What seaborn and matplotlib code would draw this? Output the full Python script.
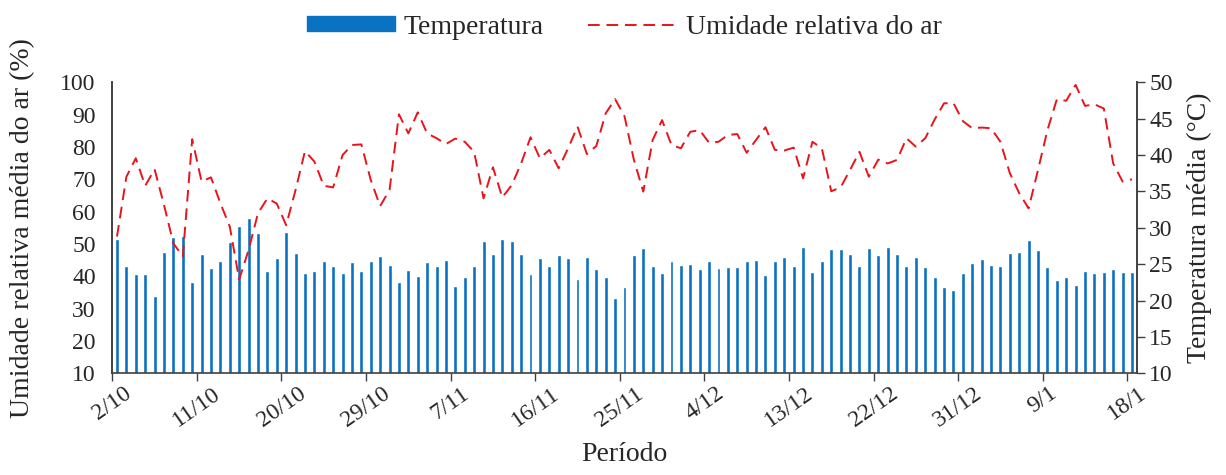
import numpy as np
import pandas as pd
import matplotlib
matplotlib.use("Agg")
import matplotlib.pyplot as plt
from matplotlib.patches import Patch
from matplotlib.lines import Line2D
import seaborn as sns

# Daily mean temperature (°C), 2/10 .. 18/1
temperatura = [
    28.4, 24.75, 23.6, 23.7, 20.6, 26.7, 28.7, 28.9, 22.5, 26.4,
    24.5, 25.4, 28.1, 30.2, 31.4, 29.3, 24.0, 25.8, 29.4, 26.5,
    23.8, 24.0, 25.4, 24.75, 23.8, 25.25, 24.1, 25.4, 26.1, 24.9,
    22.55, 24.25, 23.4, 25.35, 24.7, 25.6, 22.0, 23.3, 24.8, 28.2,
    26.4, 28.4, 28.2, 26.4, 23.7, 25.9, 24.7, 26.3, 25.8, 23.0,
    26.0, 24.4, 23.2, 20.4, 21.8, 26.2, 27.2, 24.7, 23.8, 25.5,
    24.9, 25.0, 24.3, 25.5, 24.5, 24.6, 24.6, 25.5, 25.6, 23.5,
    25.4, 26.0, 24.8, 27.3, 23.9, 25.5, 27.1, 27.1, 26.4, 24.8,
    27.2, 26.3, 27.4, 26.35, 24.75, 26.0, 24.6, 23.2, 21.9, 21.4,
    23.8, 25.1, 25.7, 24.9, 24.75, 26.5, 26.7, 28.3, 27.0, 24.6,
    22.8, 23.2, 22.2, 24.1, 23.8, 23.9, 24.3, 23.9, 23.9,
]

# Daily mean relative humidity (%)
umidade = [
    52.3, 70.8, 76.5, 68.0, 73.1, 62.1, 50.2, 46.1, 82.4, 69.3,
    70.6, 62.6, 55.4, 39.0, 48.1, 59.5, 64.1, 62.5, 55.8, 66.7,
    78.7, 75.5, 68.0, 67.5, 77.5, 80.6, 80.8, 69.8, 61.7, 66.7,
    90.1, 84.2, 90.7, 84.2, 82.7, 80.9, 82.6, 81.6, 78.5, 64.1,
    73.7, 64.4, 68.2, 74.9, 83.0, 76.5, 79.1, 73.4, 79.6, 86.3,
    77.8, 80.3, 90.4, 94.8, 89.5, 76.0, 66.2, 82.2, 88.3, 80.6,
    79.6, 84.7, 85.2, 81.3, 81.6, 83.7, 84.0, 78.2, 82.2, 86.1,
    79.1, 78.9, 79.8, 70.3, 81.6, 79.6, 66.3, 67.5, 72.9, 78.5,
    70.8, 76.1, 74.9, 76.0, 82.7, 80.1, 82.7, 88.5, 93.5, 93.6,
    88.0, 85.8, 86.0, 85.8, 81.6, 71.9, 65.7, 61.0, 72.9, 85.2,
    94.7, 94.3, 99.2, 92.7, 93.2, 91.9, 74.9, 69.3, 70.0,
]

tick_labels = ["2/10", "11/10", "20/10", "29/10", "7/11", "16/11", "25/11",
               "4/12", "13/12", "22/12", "31/12", "9/1", "18/1"]
tick_step = 9

sns.set_style("white")
plt.rcParams["font.family"] = ["Liberation Serif", "DejaVu Serif"]

n = len(temperatura)
df = pd.DataFrame({"dia": np.arange(n), "Temperatura": temperatura, "Umidade": umidade})

BLUE = "#0A72C2"
RED = "#E8141B"
AX_COL = "#404040"
DASH = (0, (6, 3.5))

fig = plt.figure(figsize=(12.26, 4.75), dpi=100)
ax = fig.add_axes([112.3 / 1226, 1 - 373.3 / 475, (1136.7 - 112.3) / 1226, (373.3 - 82.3) / 475])

sns.barplot(data=df, x="dia", y="Temperatura", ax=ax, color=BLUE, width=0.42,
            saturation=1, order=list(range(n)))

ax2 = ax.twinx()
sns.lineplot(data=df, x="dia", y="Umidade", ax=ax2, color=RED, lw=1.4, linestyle=DASH)

# temperature axis on the right
ax.set_ylim(10, 50)
ax.set_yticks(range(10, 51, 5))
ax.yaxis.tick_right()
ax.yaxis.set_label_position("right")
ax.set_ylabel("Temperatura média (°C)", fontsize=20, labelpad=10)

# humidity axis on the left
ax2.set_ylim(10, 100)
ax2.set_yticks(range(10, 101, 10))
ax2.yaxis.tick_left()
ax2.yaxis.set_label_position("left")
ax2.set_ylabel("Umidade relativa média do ar (%)", fontsize=20, labelpad=18)

ax.set_xlim(-0.5, n - 0.5)
ax.set_xticks(np.arange(0, n, tick_step) - 0.5)
ax.set_xticklabels(tick_labels, rotation=35, ha="center")
ax.set_xlabel("Período", fontsize=20, labelpad=8)
ax2.set_xlabel("")

for a in (ax, ax2):
    a.spines["top"].set_visible(False)
    for s in ("left", "right", "bottom"):
        a.spines[s].set_color(AX_COL)
        a.spines[s].set_linewidth(1.2)
ax2.spines["bottom"].set_visible(False)

ax.tick_params(axis="x", which="both", bottom=True, length=6, width=1, color=AX_COL,
               labelsize=17, pad=1)
ax.tick_params(axis="y", right=True, left=False, labelright=True, labelleft=False,
               length=6, width=1, color=AX_COL, labelsize=17, pad=3)
ax2.tick_params(axis="y", left=True, right=False, labelleft=True, labelright=False,
                length=0, labelsize=17, pad=12)

handles = [Patch(facecolor=BLUE, edgecolor=BLUE),
           Line2D([0], [0], color=RED, lw=1.4, linestyle=DASH)]
fig.legend(handles, ["Temperatura", "Umidade relativa do ar"], loc="center",
           bbox_to_anchor=(0.509, 0.943), ncol=2, frameon=False, fontsize=20,
           handlelength=3.2, handleheight=0.45, columnspacing=1.6, handletextpad=0.3)

fig.savefig("out.png", dpi=100)
